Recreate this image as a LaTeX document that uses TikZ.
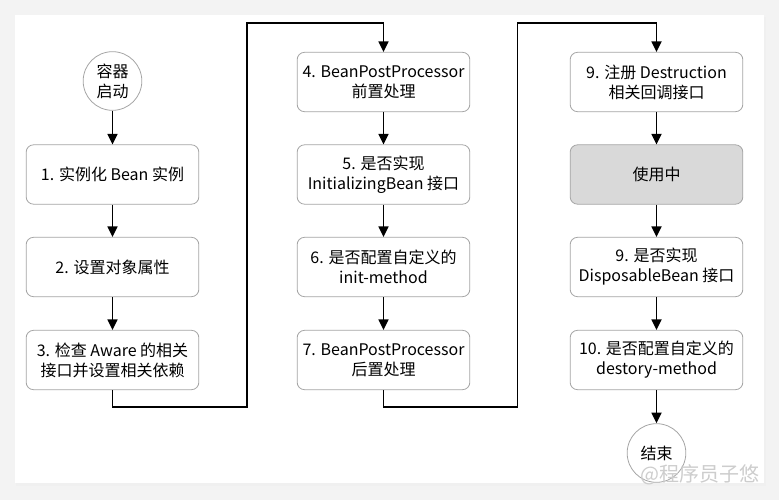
\documentclass[tikz,border=0pt]{standalone}
\usepackage{fontspec}
\setmainfont{Noto Sans CJK SC}
\usetikzlibrary{arrows.meta}
\definecolor{boxline}{RGB}{165,165,165}
\definecolor{busyfill}{RGB}{217,217,217}
\definecolor{pagebg}{RGB}{243,243,243}
\definecolor{markgray}{RGB}{205,205,205}
\tikzset{
  stepbox/.style={draw=boxline, line width=0.6pt, rounded corners=5.5pt, minimum width=129.5pt, minimum height=44.5pt, inner sep=1pt, align=center, font=\fontsize{12}{15}\selectfont},
  endcircle/.style={draw=boxline, line width=0.6pt, circle, minimum size=44pt, inner sep=0pt, align=center, font=\fontsize{12}{15}\selectfont},
  flow/.style={line width=1.3pt, -{Triangle[length=8pt,width=7.5pt]}}
}
\begin{document}
\begin{tikzpicture}[x=0.75pt,y=0.75pt,yscale=-1,xscale=1]
\useasboundingbox (0,0) rectangle (779,500);

%Shape: Background
\fill [pagebg] (0,0) rectangle (779,500);
\fill [gray!12] (16,17) rectangle (766,486);
\fill [white] (15,15) rectangle (764,483);

% Text Node
\draw (112.5,81) node (start) [endcircle] {容器\\启动};
% Text Node
\draw (112.5,174.5) node (inst) [stepbox] {1. 实例化 Bean 实例};
% Text Node
\draw (112.5,267) node (props) [stepbox] {2. 设置对象属性};
% Text Node
\draw (112.5,360) node (aware) [stepbox] {3. 检查 Aware 的相关\\接口并设置相关依赖};

% Text Node
\draw (383.5,82) node (prebpp) [stepbox] {4. BeanPostProcessor\\前置处理};
% Text Node
\draw (383.5,174.5) node (initbean) [stepbox] {5. 是否实现\\InitializingBean 接口};
% Text Node
\draw (383.5,267) node (initmeth) [stepbox] {6. 是否配置自定义的\\init-method};
% Text Node
\draw (383.5,360) node (postbpp) [stepbox] {7. BeanPostProcessor\\后置处理};

% Text Node
\draw (656.5,82) node (destreg) [stepbox] {9. 注册 Destruction\\相关回调接口};
% Text Node
\draw (656.5,174.5) node (inuse) [stepbox, fill=busyfill] {使用中};
% Text Node
\draw (656.5,267) node (dispbean) [stepbox] {9. 是否实现\\DisposableBean 接口};
% Text Node
\draw (656.5,360) node (destmeth) [stepbox] {10. 是否配置自定义的\\destory-method};
% Text Node
\draw (656.5,453) node (finish) [endcircle] {结束};

% Turn Points
\coordinate (turnA) at (247,407);
\coordinate (turnB) at (247,23);
\coordinate (turnC) at (517.5,407);
\coordinate (turnD) at (517.5,23);

%Straight Lines
\draw [flow] (start) -- (inst);
\draw [flow] (inst) -- (props);
\draw [flow] (props) -- (aware);
\draw [flow] (prebpp) -- (initbean);
\draw [flow] (initbean) -- (initmeth);
\draw [flow] (initmeth) -- (postbpp);
\draw [flow] (destreg) -- (inuse);
\draw [flow] (inuse) -- (dispbean);
\draw [flow] (dispbean) -- (destmeth);
\draw [flow] (destmeth) -- (finish);

%Shape: Boxed Line
\draw [flow] (aware.south) |- (turnA) -- (turnB) -| (prebpp.north);
%Shape: Boxed Line
\draw [flow] (postbpp.south) |- (turnC) -- (turnD) -| (destreg.north);

% Text Node
\draw (700,475) node (mark) [text=markgray, font=\fontsize{15}{15}\selectfont] {@程序员子悠};

\end{tikzpicture}
\end{document}
